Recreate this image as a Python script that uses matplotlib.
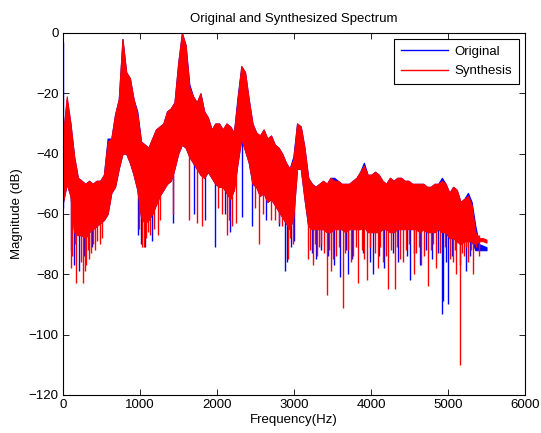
import numpy as np
import matplotlib
matplotlib.use("Agg")
import matplotlib.pyplot as plt
from matplotlib.lines import Line2D

plt.rcParams['font.family'] = ['Liberation Sans', 'DejaVu Sans']

# spectrum bins (Hz) for the band envelopes
freq_hz = np.linspace(0, 5500, 115)

synth_top = [-34, -21, -30, -41, -48, -49, -50, -49, -50, -49,
             -49, -47, -36, -35, -27, -22, -2, -13, -15, -22,
             -27, -36, -37, -38, -35, -32, -31, -30, -26, -25,
             -23, -10, 0, -4, -18, -21, -23, -20, -26, -28,
             -32, -30, -30, -32, -30, -31, -33, -22, -11, -13,
             -22, -30, -33, -34, -32, -35, -34, -37, -38, -40,
             -43, -45, -42, -30, -31, -38, -48, -50, -51, -50,
             -49, -50, -48, -49, -49, -50, -50, -50, -49, -48,
             -46, -44, -47, -47, -46, -47, -49, -50, -48, -49,
             -48, -48, -49, -49, -50, -50, -50, -50, -51, -51,
             -50, -50, -49, -50, -53, -51, -52, -56, -55, -54,
             -57, -66, -68, -68, -68.5]
synth_bot = [-56, -50, -54, -66, -67, -67, -68, -66, -65, -64,
             -63, -62, -60, -53, -51, -45, -40, -40, -43, -47,
             -52, -61, -63, -62, -60, -57, -54, -52, -50, -49,
             -45, -40, -37, -38, -41, -43, -45, -47, -48, -46,
             -48, -50, -51, -51, -53, -55, -52, -43, -35, -39,
             -43, -50, -51, -54, -53, -56, -55, -57, -59, -61,
             -63, -65, -61, -45, -45, -55, -64, -65, -65, -65,
             -65, -66, -66, -65, -65, -65, -66, -65, -65, -65,
             -65, -64, -66, -66, -66, -66, -65, -65, -66, -66,
             -65, -65, -65, -65, -65, -65, -66, -65, -66, -66,
             -66, -65, -66, -66, -68, -68, -69, -70, -69, -69,
             -69, -70, -69, -69, -69.5]

orig_top = [-34, -22, -30, -41, -48, -49, -50, -49, -50, -49,
            -49, -47, -35, -35, -27, -22, -2, -13, -15, -22,
            -26, -36, -37, -38, -35, -32, -31, -30, -26, -25,
            -23, -10, 0, -4, -17, -21, -23, -20, -26, -28,
            -32, -30, -30, -32, -30, -31, -33, -21, -11, -13,
            -22, -30, -33, -34, -32, -35, -34, -37, -38, -40,
            -43, -45, -41, -30, -31, -38, -48, -50, -51, -50,
            -49, -50, -48, -48, -49, -50, -50, -50, -49, -48,
            -46, -43, -47, -47, -46, -47, -49, -50, -48, -49,
            -48, -48, -49, -49, -50, -50, -50, -50, -51, -51,
            -50, -50, -48, -50, -53, -51, -52, -56, -55, -53,
            -56, -64, -70, -70.5, -71]
orig_bot = [-56, -50, -54, -66, -67, -67, -68, -66, -65, -64,
            -63, -62, -60, -53, -51, -45, -40, -40, -43, -47,
            -52, -61, -63, -62, -60, -57, -54, -52, -50, -49,
            -45, -40, -37, -38, -41, -43, -45, -47, -48, -46,
            -48, -50, -51, -51, -53, -55, -52, -43, -35, -39,
            -43, -50, -51, -54, -53, -56, -55, -57, -59, -61,
            -63, -65, -61, -45, -45, -55, -64, -65, -65, -65,
            -65, -66, -66, -65, -65, -65, -66, -65, -65, -65,
            -65, -64, -66, -66, -66, -66, -65, -65, -66, -66,
            -65, -65, -65, -65, -65, -65, -66, -65, -66, -66,
            -66, -65, -66, -66, -68, -68, -69, -70, -69, -69,
            -69, -72, -72, -72, -72]

# deep single-bin dips (Hz, dB)
synth_dip_hz = [99, 120, 150, 172, 230, 259, 280, 292, 320, 331,
                360, 390, 418, 440, 476, 500, 990, 1026, 1055, 1080,
                1100, 1132, 1180, 1229, 1260, 1431, 1634, 1740, 1808, 2010,
                2060, 2126, 2150, 2200, 2250, 2490, 2541, 2600, 2700, 2753,
                2800, 2850, 2927, 2950, 2990, 3187, 3210, 3247, 3270, 3300,
                3330, 3352, 3390, 3424, 3450, 3484, 3510, 3545, 3580, 3632,
                3660, 3700, 3738, 3770, 3800, 3836, 3880, 3910, 3953, 3990,
                4050, 4085, 4120, 4152, 4190, 4226, 4260, 4312, 4340, 4380,
                4413, 4450, 4490, 4558, 4590, 4620, 4654, 4690, 4736, 4780,
                4810, 4847, 4890, 4960, 5030, 5069, 5090, 5108, 5156, 5180,
                5214, 5240, 5262, 5300, 5329, 5360, 5400]
synth_dip_db = [-78, -74, -70, -83, -76, -83, -79, -77, -72, -75,
                -73, -70, -72, -69, -70, -68, -65, -71, -71, -68,
                -66, -67, -65, -67, -62, -60, -62, -63, -64, -58,
                -60, -67, -62, -64, -63, -58, -70, -60, -62, -62,
                -63, -64, -75, -68, -70, -75, -72, -77, -70, -74,
                -71, -70, -73, -87, -72, -79, -75, -74, -71, -91,
                -73, -72, -76, -74, -71, -83, -72, -75, -82, -71,
                -73, -78, -71, -76, -74, -85, -72, -85, -71, -75,
                -76, -72, -70, -80, -73, -71, -77, -74, -84, -72,
                -70, -78, -73, -71, -75, -76, -72, -80, -110, -73,
                -74, -71, -76, -72, -80, -71, -74]
orig_dip_hz = [3, 110, 143, 206, 270, 380, 978, 1010, 1070, 1160,
               1430, 1700, 1850, 1972, 2100, 2174, 2320, 2454, 2640, 2800,
               2883, 2908, 2956, 3000, 3240, 3290, 3350, 3440, 3520, 3602,
               3680, 3699, 3750, 3900, 3990, 4027, 4100, 4170, 4280, 4350,
               4470, 4507, 4560, 4640, 4720, 4790, 4870, 4919, 4934, 4980,
               5005, 5050, 5150, 5230, 5280]
orig_dip_db = [-58, -72, -77, -79, -74, -71, -67, -70, -71, -69,
               -63, -60, -62, -71, -60, -66, -61, -64, -62, -64,
               -79, -76, -71, -69, -73, -75, -72, -74, -77, -81,
               -72, -80, -75, -73, -76, -80, -74, -78, -73, -76,
               -74, -82, -73, -77, -72, -75, -73, -93, -89, -76,
               -90, -74, -77, -79, -74]
# single bin at DC reaching near 0 dB in the original
orig_dc_hz = 3
orig_dc_db = -3

BLUE = (0, 0, 1)
RED = (1, 0, 0)

fig = plt.figure(figsize=(5.41, 4.33), dpi=100)
ax = fig.add_axes([0.1165, 0.0878, 0.8539, 0.836])

def draw(f, top, bot, dip_f, dip_db, color):
    ax.fill_between(f, bot, top, color=color, linewidth=0.8, edgecolor=color, zorder=2)
    start = np.interp(dip_f, f, bot) + 2
    ax.vlines(dip_f, dip_db, start, color=color, linewidth=1.0, zorder=2)

draw(freq_hz, orig_top, orig_bot, orig_dip_hz, orig_dip_db, BLUE)
ax.vlines([orig_dc_hz], [orig_dc_db], [-45], color=BLUE, linewidth=1.0, zorder=2)
draw(freq_hz, synth_top, synth_bot, synth_dip_hz, synth_dip_db, RED)

ax.set_xlim(0, 6000)
ax.set_ylim(-120, 0)
ax.set_xticks([0, 1000, 2000, 3000, 4000, 5000, 6000])
ax.set_yticks([-120, -100, -80, -60, -40, -20, 0])
ax.tick_params(direction='in', length=4, width=0.6, top=True, right=True,
               labelsize=9.5, pad=3)
for s in ax.spines.values():
    s.set_linewidth(0.8)

ax.set_title('Original and Synthesized Spectrum', fontsize=9.5, pad=8)
ax.set_xlabel('Frequency(Hz)', fontsize=9.5, labelpad=2)
ax.set_ylabel('Magnitude (dB)', fontsize=9.5, labelpad=4)

handles = [Line2D([], [], color=BLUE, linewidth=1.0),
           Line2D([], [], color=RED, linewidth=1.0)]
leg = ax.legend(handles, ['Original', 'Synthesis'], loc='upper right',
                fontsize=9.5, frameon=True, fancybox=False, edgecolor='black',
                framealpha=1, handlelength=3.6, borderaxespad=0.45,
                handletextpad=0.5, labelspacing=0.55, borderpad=0.5)
leg.get_frame().set_linewidth(0.8)
leg.set_zorder(5)

fig.savefig('out.png', dpi=100)
